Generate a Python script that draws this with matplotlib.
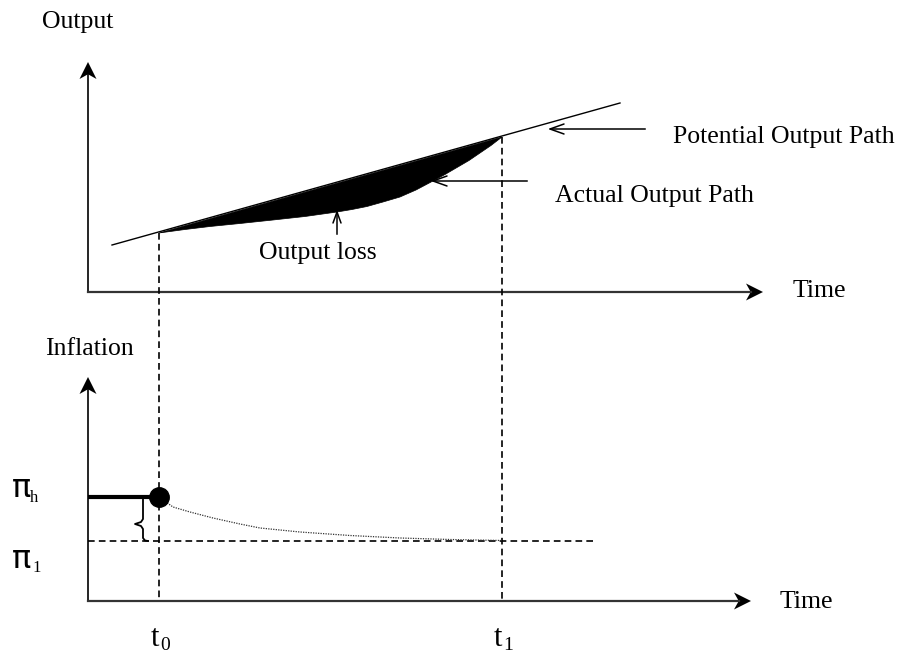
import matplotlib.pyplot as plt
import numpy as np
from matplotlib.patches import Polygon

# pixel coordinates (y grows downwards)
t_marks = [159, 502]
potential_x = [112, 620]
potential_y = [245, 103]

actual_x = [159, 185, 210, 240, 273, 305, 337, 352, 367, 383, 400, 416, 433, 445, 457, 469, 480, 491, 502]
actual_y = [233, 229.5, 226.5, 223.5, 220, 216.5, 212, 209.5, 206.5, 202, 197, 190, 181, 174.5, 167.5, 160.5, 153, 145.5, 137]

infl_x = [159, 173, 190, 213, 240, 260, 300, 350, 400, 450, 502]
infl_y = [497, 507, 512, 518, 524, 528, 532, 535.5, 538, 539.5, 540.5]

pi_high = 497
pi_low = 541
upper_base = 292
lower_base = 601

SERIF = 'Liberation Serif'


def solid_head(ax, tip, direction, length=17, half=8.5, notch=0.72):
    """filled arrow head with a concave back"""
    d = np.array(direction, float)
    d /= np.linalg.norm(d)
    p = np.array([-d[1], d[0]])
    tip = np.array(tip, float)
    back = tip - d * length
    pts = [tip, back + p * half, tip - d * length * notch, back - p * half]
    ax.add_patch(Polygon(pts, closed=True, color='black', lw=0))
    return tip - d * length * notch


def open_head(ax, tip, direction, length=14, half=5, lw=1.1):
    d = np.array(direction, float)
    d /= np.linalg.norm(d)
    p = np.array([-d[1], d[0]])
    tip = np.array(tip, float)
    back = tip - d * length
    for s in (1, -1):
        q = back + p * half * s
        ax.plot([q[0], tip[0]], [q[1], tip[1]], color='black', lw=lw, solid_capstyle='round')


def main():
    fig = plt.figure(figsize=(9.06, 6.54), dpi=100)
    ax = fig.add_axes([0, 0, 1, 1])
    ax.set_xlim(0, 906)
    ax.set_ylim(654, 0)
    ax.axis('off')

    # upper panel axes
    end = solid_head(ax, (88, 62), (0, -1))
    ax.plot([88, 88], [upper_base, end[1]], color='black', lw=1.2)
    end = solid_head(ax, (763, upper_base), (1, 0))
    ax.plot([88, end[0]], [upper_base, upper_base], color='#333333', lw=1.6)
    # lower panel axes
    end = solid_head(ax, (88, 377), (0, -1))
    ax.plot([88, 88], [lower_base, end[1]], color='black', lw=1.2)
    end = solid_head(ax, (751, lower_base), (1, 0))
    ax.plot([88, end[0]], [lower_base, lower_base], color='#333333', lw=1.6)

    # potential output path and the output loss area
    ax.plot(potential_x, potential_y, color='black', lw=1.0)
    ax.fill(actual_x, actual_y, color='black', lw=0.5)

    # vertical dashed lines at t0 and t1
    for t, top in zip(t_marks, [actual_y[0], actual_y[-1]]):
        ax.plot([t, t], [top, lower_base], color='black', lw=1.2, linestyle=(0, (4, 2.5)))

    # inflation: high level, target level, decay path
    ax.plot([88, t_marks[0]], [pi_high, pi_high], color='black', lw=3.0, solid_capstyle='butt')
    ax.plot([88, 597], [pi_low, pi_low], color='black', lw=1.2, linestyle=(0, (4, 2.5)))
    ax.plot(infl_x, infl_y, color='#333333', lw=0.9, linestyle=(0, (1, 1)))
    ax.plot(t_marks[0], pi_high, 'o', color='black', markersize=14)

    # small brace between the two inflation levels
    ax.plot([143, 143, 141, 135, 141, 143, 143, 145, 148],
            [498, 519, 522, 524, 526, 529, 538, 540.5, 541], color='black', lw=1.3)

    # annotation arrows
    ax.plot([645, 551], [129, 129], color='black', lw=1.1)
    open_head(ax, (550, 129), (-1, 0))
    ax.plot([527, 434], [181, 181], color='black', lw=1.1)
    open_head(ax, (433, 181), (-1, 0))
    ax.plot([337, 337], [234, 213], color='black', lw=1.1)
    open_head(ax, (337, 212), (0, -1), length=11, half=4)

    # labels
    fs = 18.5
    ax.text(42, 28, 'Output', family=SERIF, fontsize=fs, va='baseline')
    ax.text(673, 143, 'Potential Output Path', family=SERIF, fontsize=fs, va='baseline')
    ax.text(555, 202, 'Actual Output Path', family=SERIF, fontsize=fs, va='baseline')
    ax.text(259, 259, 'Output loss', family=SERIF, fontsize=fs, va='baseline')
    ax.text(793, 297, 'Time', family=SERIF, fontsize=fs, va='baseline')
    ax.text(45, 355, 'Inflation', family=SERIF, fontsize=fs, va='baseline')
    ax.text(780, 608, 'Time', family=SERIF, fontsize=fs, va='baseline')

    ax.text(12, pi_high, 'π', family='DejaVu Sans', fontsize=23, va='baseline')
    ax.text(30, 502, 'h', family=SERIF, fontsize=12, va='baseline')
    ax.text(12, 568, 'π', family='DejaVu Sans', fontsize=23, va='baseline')
    ax.text(32, 572, '1', family=SERIF, fontsize=12, va='baseline')

    ax.text(151, 646, 't', family=SERIF, fontsize=22, va='baseline')
    ax.text(160, 650, '0', family=SERIF, fontsize=14, va='baseline')
    ax.text(494, 646, 't', family=SERIF, fontsize=22, va='baseline')
    ax.text(503, 650, '1', family=SERIF, fontsize=14, va='baseline')

    fig.savefig('out.png', dpi=100, facecolor='white')
    plt.close(fig)


if __name__ == '__main__':
    main()
